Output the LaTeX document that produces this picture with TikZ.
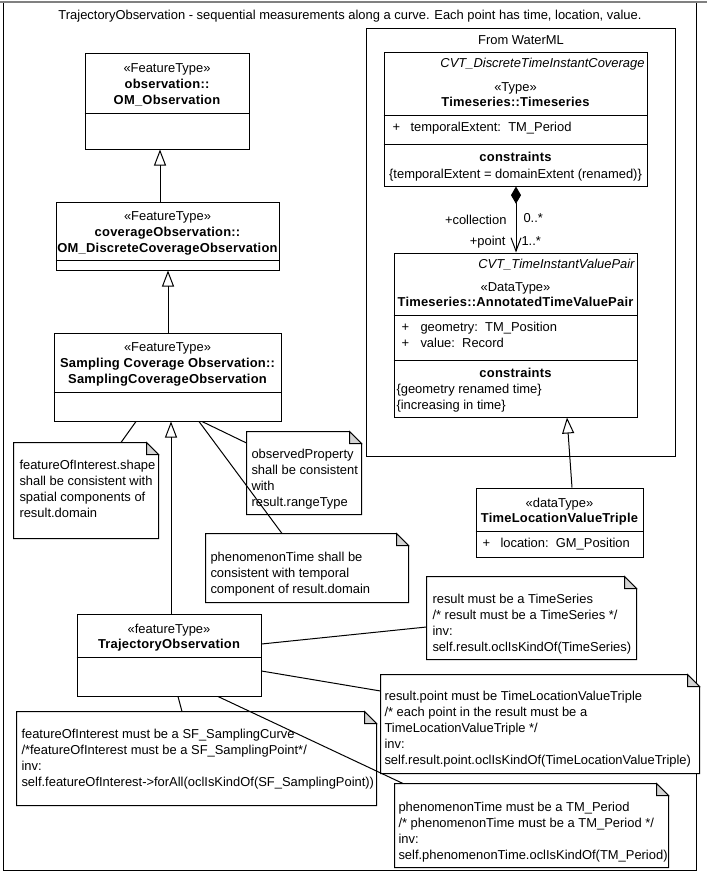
\documentclass[tikz,border=0pt]{standalone}
\usepackage{fontspec}
\setmainfont{Liberation Sans}[BoldFeatures={LetterSpace=1.8}]
\usetikzlibrary{arrows.meta,fit,calc}
\definecolor{foldgray}{RGB}{212,212,212}
\newcounter{tn}
\newcommand{\fs}{\fontsize{9.7}{12}\selectfont}
\newcommand{\tl}[4][]{\stepcounter{tn}\node[txt,#1] (t\arabic{tn}) at (#2,{#3+4}) {#4};}
\newcommand{\ubox}[5]{%
  \path (#2,#3) coordinate (#1-a) (#4,#5) coordinate (#1-b);
  \node[fit=(#1-a)(#1-b), inner sep=0pt, draw, fill=white] (#1) {};}
\newcommand{\unote}[5]{%
  \path (#2,#3) coordinate (#1-a) (#4,#5) coordinate (#1-b);
  \node[fit=(#1-a)(#1-b), inner sep=0pt] (#1) {};
  \draw[fill=white] (#1.north west) -- ([xshift=-9pt]#1.north east) -- ([yshift=-9pt]#1.north east) -- (#1.south east) -- (#1.south west) -- cycle;
  \draw[fill=foldgray] ([xshift=-9pt]#1.north east) -- ([xshift=-9pt,yshift=-9pt]#1.north east) -- ([yshift=-9pt]#1.north east) -- cycle;}
\newcommand{\hsep}[2]{\draw (#1.west |- 0,#2) -- (#1.east |- 0,#2);}
\tikzset{
  txt/.style={inner sep=0pt, anchor=base, font=\fs},
  lft/.style={anchor=base west},
  rgt/.style={anchor=base east},
  bf/.style={font=\fs\bfseries},
  it/.style={font=\fs\itshape},
  gen/.style={-{Triangle[open,length=12pt,width=9pt]}},
}
\begin{document}
\begin{tikzpicture}[x=0.75pt, y=-0.75pt, line width=0.75pt]
\useasboundingbox (0,0) rectangle (707,874);
\fill[white] (0,0) rectangle (707,874);
% outer frame
\node[fit={(3,3)(696,870)}, inner sep=0pt, draw] (frame) {};
\draw[gray, line width=1.5pt] (frame.north west -| 0,0) -- (frame.north east -| 707,0);
\tl{350}{16}{TrajectoryObservation - sequential measurements along a curve. Each point has time, location, value.}

% package
\ubox{pkg}{366}{29}{675}{456}
\tl{521}{41}{From WaterML}

% Timeseries
\ubox{ts}{384}{53}{647}{186}
\tl[it,rgt]{645}{64}{CVT\_DiscreteTimeInstantCoverage}
\tl{515.5}{87}{«Type»}
\tl[bf]{515.5}{102}{Timeseries::Timeseries}
\hsep{ts}{115}
\tl[lft]{392}{127}{+}
\tl[lft]{410}{127}{temporalExtent:\ \ TM\_Period}
\hsep{ts}{144}
\tl[bf]{515.5}{157}{constraints}
\tl{515.5}{174}{\{temporalExtent = domainExtent (renamed)\}}

% AnnotatedTimeValuePair
\ubox{atvp}{394}{253}{637}{417}
\tl[it,rgt]{635}{264}{CVT\_TimeInstantValuePair}
\tl{515.5}{287}{«DataType»}
\tl[bf]{515.5}{302}{Timeseries::AnnotatedTimeValuePair}
\hsep{atvp}{315}
\tl[lft]{401}{327}{+}
\tl[lft]{420}{327}{geometry:\ \ TM\_Position}
\tl[lft]{401}{343}{+}
\tl[lft]{420}{343}{value:\ \ Record}
\hsep{atvp}{360}
\tl[bf]{515.5}{373}{constraints}
\tl[lft]{396}{389}{\{geometry renamed time\}}
\tl[lft]{396}{405}{\{increasing in time\}}

% composition
\draw[{Diamond[length=13pt,width=7.5pt]}-{Straight Barb[length=10pt,width=7.5pt]}] (ts.south -| 516,0) -- (atvp.north -| 516,0);
\tl[rgt]{507}{220}{+collection}
\tl[lft]{523}{218}{0..*}
\tl[rgt]{506}{241}{+point}
\tl[lft]{521}{241}{1..*}

% TimeLocationValueTriple
\ubox{tlvt}{476}{488}{643}{557}
\tl{559.5}{503}{«dataType»}
\tl[bf]{559.5}{518}{TimeLocationValueTriple}
\hsep{tlvt}{531}
\tl[lft]{482}{543}{+}
\tl[lft]{500}{543}{location:\ \ GM\_Position}

% left column classes
\ubox{om}{85}{54}{249}{149}
\tl{167}{69}{«FeatureType»}
\tl[bf]{167}{85}{observation::}
\tl[bf]{167}{100}{OM\_Observation}
\hsep{om}{113}

\ubox{cov}{56}{202}{279}{270}
\tl{167.5}{216}{«FeatureType»}
\tl[bf]{167.5}{232}{coverageObservation::}
\tl[bf]{167.5}{248}{OM\_DiscreteCoverageObservation}
\hsep{cov}{260}

\ubox{samp}{54}{333}{281}{421}
\tl{167.5}{347}{«FeatureType»}
\tl[bf]{167.5}{363}{Sampling Coverage Observation::}
\tl[bf]{167.5}{379}{SamplingCoverageObservation}
\hsep{samp}{392}

\ubox{traj}{77}{614}{261}{696}
\tl{169}{629}{«featureType»}
\tl[bf]{169}{644}{TrajectoryObservation}
\hsep{traj}{657}

% notes
\unote{n1}{14}{443}{158}{538}
\tl[lft]{19}{465}{featureOfInterest.shape}
\tl[lft]{19}{481}{shall be consistent with}
\tl[lft]{19}{497}{spatial components of}
\tl[lft]{19}{513}{result.domain}

\unote{n2}{247}{432}{361}{514}
\tl[lft]{251}{454}{observedProperty}
\tl[lft]{251}{470}{shall be consistent}
\tl[lft]{251}{486}{with}
\tl[lft]{251}{502}{result.rangeType}

\unote{n3}{206}{534}{408}{602}
\tl[lft]{210}{557}{phenomenonTime shall be}
\tl[lft]{210}{573}{consistent with temporal}
\tl[lft]{210}{589}{component of result.domain}

\unote{n4}{427}{577}{636}{659}
\tl[lft]{432}{599}{result must be a TimeSeries}
\tl[lft]{432}{615}{/* result must be a TimeSeries */}
\tl[lft]{432}{631}{inv:}
\tl[lft]{432}{647}{self.result.oclIsKindOf(TimeSeries)}

\unote{n5}{381}{675}{699}{773}
\tl[lft]{384}{696}{result.point must be TimeLocationValueTriple}
\tl[lft]{384}{712}{/* each point in the result must be a}
\tl[lft]{384}{728}{TimeLocationValueTriple */}
\tl[lft]{384}{744}{inv:}
\tl[lft]{384}{760}{self.result.point.oclIsKindOf(TimeLocationValueTriple)}

\unote{n6}{395}{784}{668}{867}
\tl[lft]{398}{807}{phenomenonTime must be a TM\_Period}
\tl[lft]{398}{823}{/* phenomenonTime must be a TM\_Period */}
\tl[lft]{398}{839}{inv:}
\tl[lft]{398}{855}{self.phenomenonTime.oclIsKindOf(TM\_Period)}

\unote{n7}{17}{712}{376}{805}
\tl[lft]{21}{734}{featureOfInterest must be a SF\_SamplingCurve}
\tl[lft]{21}{750}{/*featureOfInterest must be a SF\_SamplingPoint*/}
\tl[lft]{21}{766}{inv:}
\tl[lft]{21}{782}{self.featureOfInterest->forAll(oclIsKindOf(SF\_SamplingPoint))}

% generalizations
\draw[gen] (cov.north -| 160,0) -- (om.south -| 160,0);
\draw[gen] (samp.north -| 168,0) -- (cov.south -| 168,0);
\draw[gen] (traj.north -| 171,0) -- (samp.south -| 171,0);
\draw[gen] (tlvt.north -| 572,0) -- (atvp.south -| 567,0);

% note connectors
\draw (samp.south -| 136,0) -- (n1.north -| 121,0);
\draw (samp.south -| 202,0) -- (n2.west |- 0,443);
\draw (samp.south -| 199,0) -- (n3.north -| 282,0);
\draw (traj.east |- 0,644) -- (n4.west |- 0,627);
\draw (traj.east |- 0,671) -- (n5.west |- 0,691);
\draw (traj.south -| 218,0) -- (n6.north -| 403,0);
\draw (traj.south -| 178,0) -- (n7.north -| 182,0);
\end{tikzpicture}
\end{document}
